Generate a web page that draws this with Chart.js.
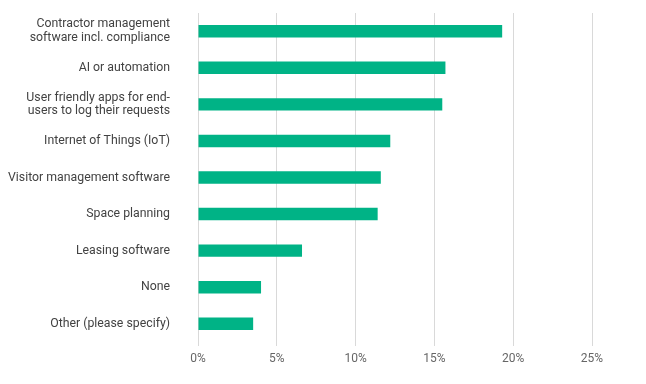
<!DOCTYPE html>
<html>
<head>
<meta charset="utf-8">
<script src="https://cdn.jsdelivr.net/npm/chart.js@4.4.1/dist/chart.umd.min.js"></script>
<style>
  html, body { margin: 0; padding: 0; background: #fff; }
  #wrap { width: 646px; height: 384px; }
</style>
</head>
<body>
<div id="wrap"><canvas id="chart" width="646" height="384"></canvas></div>
<script>
// categories (multi-line labels as arrays)
const categories = [
    ['Contractor management', 'software incl. compliance'],
    'AI or automation',
    ['User friendly apps for end-', 'users to log their requests'],
    'Internet of Things (IoT)',
    'Visitor management software',
    'Space planning',
    'Leasing software',
    'None',
    'Other (please specify)'
];

// share of respondents, percent
const shares = [19.3, 15.7, 15.5, 12.2, 11.6, 11.4, 6.6, 4.0, 3.5];

const xTicks = [0, 5, 10, 15, 20, 25];

const barColor = '#00b386';

const ctx = document.getElementById('chart').getContext('2d');
window.mainChart = new Chart(ctx, {
    type: 'bar',
    data: {
        labels: categories,
        datasets: [{
            data: shares,
            backgroundColor: barColor,
            borderWidth: 0,
            barPercentage: 0.85,
            categoryPercentage: 0.4
        }]
    },
    options: {
        indexAxis: 'y',
        responsive: false,
        animation: false,
        layout: { padding: { top: 13, right: 54, left: 0, bottom: 0 } },
        plugins: {
            legend: { display: false },
            tooltip: { enabled: false }
        },
        scales: {
            x: {
                min: xTicks[0],
                max: xTicks[xTicks.length - 1],
                afterBuildTicks: (scale) => {
                    scale.ticks = xTicks.map(v => ({ value: v }));
                },
                afterFit: (scale) => { scale.height = 42; },
                border: { display: false },
                grid: {
                    color: '#d9d9d9',
                    lineWidth: 1,
                    drawTicks: true,
                    tickLength: 4
                },
                ticks: {
                    padding: 6,
                    color: '#666666',
                    font: { family: 'Roboto', size: 12 },
                    callback: (v) => v + '%'
                }
            },
            y: {
                afterFit: (scale) => {
                    scale.width = 198;
                    // the two-line labels would otherwise push the plot area down
                    scale.paddingTop = 0;
                    scale.paddingBottom = 0;
                },
                border: { display: false },
                grid: { display: false, drawTicks: false },
                ticks: {
                    padding: 28,
                    color: '#424242',
                    font: { family: 'Roboto', size: 12.3, lineHeight: 1.12 }
                }
            }
        }
    }
});
</script>
</body>
</html>
